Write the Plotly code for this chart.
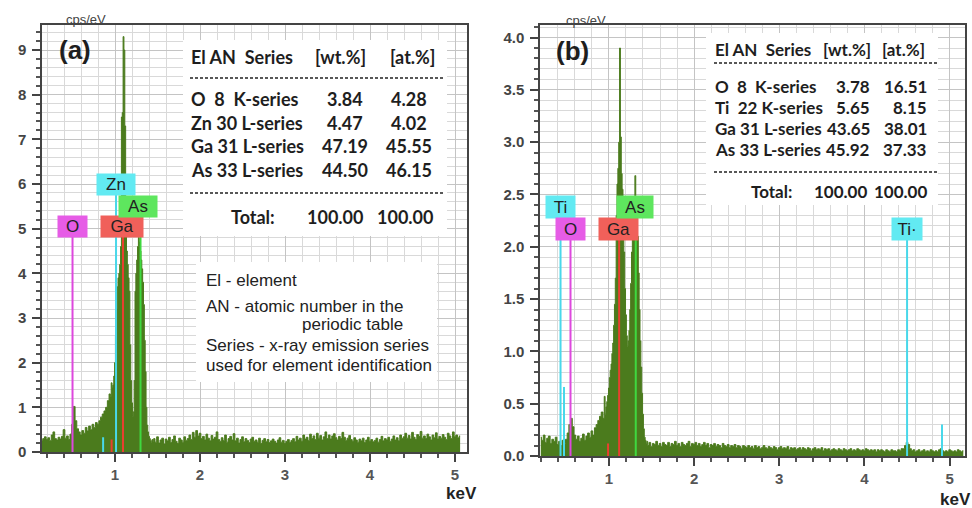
import numpy as np
import plotly.graph_objects as go

# ================= DATA =================
# Panel (a) spectrum (cps/eV), three energy segments
a_low_start, a_low_step = 0.14, 0.02
a_low = [0.26, 0.30, 0.34, 0.28, 0.32, 0.26, 0.38, 0.45, 0.30, 0.27,
         0.33, 0.29, 0.35, 0.50, 0.31, 0.36, 0.28, 0.40, 0.62, 1.02,
         0.70, 0.52, 0.45, 0.38, 0.48, 0.42, 0.55, 0.47, 0.58, 0.50,
         0.62, 0.55, 0.66, 0.62, 0.70, 0.78, 0.85, 0.92, 1.00, 1.15,
         1.30]
a_pk_start, a_pk_step = 0.95, 0.01
a_pk = [1.25, 1.55, 1.45, 1.50, 1.70, 2.00, 2.60, 3.20, 3.70, 3.90,
        4.00, 4.20, 4.60, 7.50, 7.60, 9.30, 9.00, 7.30, 5.20, 4.50,
        4.20, 3.90, 3.60, 2.40, 1.60, 1.10, 0.80, 0.90, 1.60, 3.60,
        4.00, 4.30, 4.60, 4.80, 4.70, 4.50, 4.30, 4.10, 3.80, 3.30,
        2.50, 1.80, 1.00, 0.60, 0.45, 0.35, 0.30, 0.26, 0.22, 0.28,
        0.24]
a_hi_start, a_hi_step = 1.46, 0.02
a_hi = [0.30, 0.22, 0.34, 0.20, 0.27, 0.31, 0.18, 0.29, 0.25, 0.33,
        0.21, 0.28, 0.36, 0.24, 0.19, 0.31, 0.27, 0.22, 0.34, 0.26,
        0.30, 0.38, 0.28, 0.44, 0.33, 0.48, 0.36, 0.42, 0.30, 0.35,
        0.27, 0.40, 0.31, 0.25, 0.37, 0.29, 0.33, 0.45, 0.28, 0.24,
        0.32, 0.26, 0.38, 0.22, 0.30, 0.35, 0.27, 0.41, 0.25, 0.31,
        0.20, 0.28, 0.34, 0.23, 0.30, 0.26, 0.21, 0.29, 0.33, 0.24,
        0.27, 0.22, 0.31, 0.19, 0.26, 0.30, 0.23, 0.28, 0.21, 0.25,
        0.29, 0.24, 0.20, 0.27, 0.32, 0.22, 0.26, 0.19, 0.24, 0.28,
        0.21, 0.26, 0.30, 0.23, 0.35, 0.27, 0.31, 0.24, 0.38, 0.29,
        0.33, 0.26, 0.40, 0.30, 0.36, 0.28, 0.42, 0.31, 0.37, 0.27,
        0.34, 0.45, 0.30, 0.38, 0.29, 0.36, 0.41, 0.32, 0.27, 0.35,
        0.30, 0.44, 0.33, 0.26, 0.31, 0.37, 0.28, 0.24, 0.32, 0.27,
        0.22, 0.29, 0.25, 0.31, 0.21, 0.27, 0.33, 0.24, 0.28, 0.23,
        0.26, 0.31, 0.22, 0.28, 0.35, 0.25, 0.30, 0.27, 0.33, 0.24,
        0.29, 0.36, 0.27, 0.32, 0.25, 0.38, 0.30, 0.34, 0.42, 0.31,
        0.37, 0.29, 0.44, 0.33, 0.28, 0.39, 0.35, 0.46, 0.31, 0.36,
        0.30, 0.40, 0.34, 0.27, 0.38, 0.32, 0.43, 0.29, 0.35, 0.31,
        0.39, 0.33, 0.28, 0.42, 0.36, 0.30, 0.45, 0.34, 0.38, 0.32,
        0.36]

# Panel (b) spectrum
b_low_start, b_low_step = 0.20, 0.02
b_low = [0.18, 0.15, 0.20, 0.13, 0.17, 0.19, 0.12, 0.16, 0.14, 0.18,
         0.11, 0.14, 0.10, 0.15, 0.12, 0.16, 0.22, 0.30, 0.36, 0.28,
         0.20, 0.16, 0.19, 0.14, 0.17, 0.21, 0.15, 0.19, 0.22, 0.18,
         0.24, 0.20, 0.27, 0.30, 0.34, 0.38, 0.42, 0.36]
b_pk_start, b_pk_step = 0.95, 0.01
b_pk = [0.57, 0.40, 0.47, 0.52, 0.58, 0.65, 0.75, 0.82, 0.88, 0.98,
        1.08, 1.25, 1.45, 1.70, 2.30, 2.60, 2.75, 3.00, 3.90, 3.05,
        2.70, 2.55, 2.40, 1.95, 1.60, 1.35, 1.15, 1.05, 1.10, 1.20,
        1.40, 1.65, 1.95, 2.20, 2.35, 2.45, 2.68, 2.40, 2.30, 2.10,
        1.75, 1.40, 1.10, 0.85, 0.60, 0.40, 0.26, 0.18, 0.15, 0.12,
        0.14]
b_hi_start, b_hi_step = 1.46, 0.02
b_hi = [0.10, 0.13, 0.09, 0.12, 0.11, 0.14, 0.10, 0.12, 0.09, 0.13,
        0.11, 0.10, 0.13, 0.09, 0.12, 0.11, 0.14, 0.10, 0.12, 0.09,
        0.13, 0.11, 0.10, 0.12, 0.14, 0.09, 0.12, 0.11, 0.13, 0.10,
        0.12, 0.09, 0.11, 0.13, 0.10, 0.12, 0.08, 0.11, 0.10, 0.12,
        0.09, 0.11, 0.10, 0.08, 0.12, 0.10, 0.09, 0.11, 0.08, 0.10,
        0.09, 0.11, 0.08, 0.10, 0.09, 0.07, 0.10, 0.09, 0.08, 0.10,
        0.08, 0.09, 0.07, 0.10, 0.08, 0.09, 0.07, 0.08, 0.10, 0.08,
        0.07, 0.09, 0.08, 0.07, 0.09, 0.08, 0.06, 0.08, 0.09, 0.07,
        0.08, 0.07, 0.09, 0.06, 0.08, 0.07, 0.08, 0.06, 0.07, 0.08,
        0.06, 0.08, 0.07, 0.06, 0.08, 0.07, 0.05, 0.07, 0.08, 0.06,
        0.07, 0.06, 0.08, 0.05, 0.07, 0.06, 0.07, 0.05, 0.06, 0.07,
        0.06, 0.05, 0.07, 0.06, 0.05, 0.07, 0.06, 0.05, 0.06, 0.07,
        0.05, 0.06, 0.05, 0.07, 0.06, 0.05, 0.06, 0.05, 0.07, 0.06,
        0.05, 0.06, 0.05, 0.06, 0.04, 0.06, 0.05, 0.06, 0.05, 0.04,
        0.06, 0.05, 0.04, 0.06, 0.05, 0.05, 0.04, 0.06, 0.05, 0.07,
        0.07, 0.10, 0.13, 0.11, 0.07, 0.05, 0.06, 0.04, 0.05, 0.06,
        0.04, 0.05, 0.06, 0.04, 0.05, 0.04, 0.06, 0.05, 0.04, 0.05,
        0.04, 0.06, 0.07, 0.05, 0.04, 0.05, 0.04, 0.06, 0.05, 0.04,
        0.05, 0.04, 0.06, 0.05, 0.04, 0.05]

# Element marker lines: (energy keV, height, colour key)
a_markers = [(0.50, 5.04, "O"), (1.012, 6.0, "Zn"), (1.094, 5.04, "Ga"),
             (1.30, 5.5, "As"), (0.86, 0.33, "Zn"), (0.96, 0.28, "Ga")]
b_markers = [(0.432, 2.38, "Ti"), (0.549, 2.17, "O"), (1.12, 2.17, "Ga"),
             (1.315, 2.38, "As"), (4.50, 2.17, "Ti"), (0.473, 0.66, "Ti"),
             (4.91, 0.30, "Ti"), (0.99, 0.12, "Ga")]

# Element label boxes: (text, energy, y, box width px)
a_labels = [("O", 0.50, 5.04, 29), ("Ga", 1.082, 5.04, 42),
            ("Zn", 1.012, 6.0, 38), ("As", 1.27, 5.5, 38)]
b_labels = [("Ti", 0.432, 2.38, 29), ("O", 0.549, 2.17, 29),
            ("Ga", 1.113, 2.17, 39), ("As", 1.306, 2.38, 36),
            ("Ti\u00b7", 4.499, 2.17, 30)]

# Quantification tables
a_el = ["O\u00a0\u00a08\u00a0\u00a0K-series", "Zn\u00a030\u00a0L-series",
        "Ga\u00a031\u00a0L-series", "As\u00a033\u00a0L-series"]
a_wt = ["3.84", "4.47", "47.19", "44.50"]
a_at = ["4.28", "4.02", "45.55", "46.15"]
b_el = ["O\u00a0\u00a08\u00a0\u00a0K-series", "Ti\u00a0\u00a022\u00a0K-series",
        "Ga\u00a031\u00a0L-series", "As\u00a033\u00a0L-series"]
b_wt = ["3.78", "5.65", "43.65", "45.92"]
b_at = ["16.51", "8.15", "38.01", "37.33"]
total_wt, total_at = "100.00", "100.00"

notes = ["El - element", "AN - atomic number in the", "periodic table",
         "Series - x-ray emission series", "used for element identification"]

# ================= STYLE =================
W, H = 972, 508
GREEN = "#4b7b1d"
COL = {"O": "#dd48dd", "Zn": "#48d8ea", "Ti": "#48d8ea", "Ga": "#e8402f", "As": "#3fd83f"}
BOX = {"O": "#e65ce6", "Zn": "#62eaf2", "Ti": "#62eaf2", "Ga": "#f0605a", "As": "#5ee65e"}


def px(x):
    return x / W


def py(y):
    return 1 - y / H


def energies(start, step, vals):
    return np.round(start + step * np.arange(len(vals)), 3)


fig = go.Figure()

spectra = [
    ("x", "y", [(a_low_start, a_low_step, a_low), (a_pk_start, a_pk_step, a_pk), (a_hi_start, a_hi_step, a_hi)]),
    ("x2", "y2", [(b_low_start, b_low_step, b_low), (b_pk_start, b_pk_step, b_pk), (b_hi_start, b_hi_step, b_hi)]),
]
for xa, ya, segs in spectra:
    e = np.concatenate([energies(s, d, v) for s, d, v in segs])
    c = np.concatenate([np.array(v, float) for s, d, v in segs])
    fig.add_trace(go.Scatter(x=e, y=c, mode="lines", line=dict(color=GREEN, width=1, shape="hvh"),
                             fill="tozeroy", fillcolor=GREEN, xaxis=xa, yaxis=ya,
                             showlegend=False, hoverinfo="skip"))

for xa, ya, markers in [("x", "y", a_markers), ("x2", "y2", b_markers)]:
    for e, h, k in markers:
        fig.add_trace(go.Scatter(x=[e, e], y=[0, h], mode="lines",
                                 line=dict(color=COL[k], width=2), xaxis=xa, yaxis=ya,
                                 showlegend=False, hoverinfo="skip"))

ann = []
shapes = []
LBLFONT = dict(family="Liberation Sans, Arial", size=17, color="#222")
for xa, ya, labels, hgt in [("x", "y", a_labels, 21), ("x2", "y2", b_labels, 22)]:
    for t, e, yv, w in labels:
        key = t.replace("\u00b7", "")
        ann.append(dict(x=e, y=yv, xref=xa, yref=ya, text=t, showarrow=False,
                        bgcolor=BOX[key], width=w, height=hgt, font=LBLFONT,
                        borderpad=0, xanchor="center", yanchor="middle"))

# white panels behind text
for x0, y0, x1, y1 in [(183, 40, 447, 236), (196, 262, 437, 382), (706, 33, 938, 205)]:
    shapes.append(dict(type="rect", xref="paper", yref="paper", x0=px(x0), x1=px(x1),
                       y0=py(y1), y1=py(y0), fillcolor="white", line=dict(width=0), layer="above"))
# dashed rules
for x0, x1, y in [(190, 443, 78), (190, 443, 193), (714, 937, 63), (714, 937, 172)]:
    shapes.append(dict(type="line", xref="paper", yref="paper", x0=px(x0), x1=px(x1),
                       y0=py(y), y1=py(y), line=dict(color="#222", width=1.5, dash="3px,2px"),
                       layer="above"))


def txt(x, y, t, size, anchor="left", family="Lato, Liberation Sans", bold=True, color="#1e1e1e"):
    ann.append(dict(x=px(x), y=py(y), xref="paper", yref="paper", text=(f"<b>{t}</b>" if bold else t),
                    showarrow=False, xanchor=anchor, yanchor="middle",
                    font=dict(family=family, size=size, color=color)))


# table (a)
txt(189, 57, "El AN\u00a0\u00a0Series", 18)
txt(340, 57, "[wt.%]", 18, "center")
txt(413, 57, "[at.%]", 18, "center")
for i, (el, w, a) in enumerate(zip(a_el, a_wt, a_at)):
    yy = 99 + i * 23.7
    txt(189, yy, el, 18)
    txt(345, yy, w, 18, "center")
    txt(409, yy, a, 18, "center")
txt(229, 217, "Total:", 18)
txt(335, 217, total_wt, 18, "center")
txt(405, 217, total_at, 18, "center")

# table (b)
txt(713, 49, "El AN\u00a0\u00a0Series", 17)
txt(847, 49, "[wt.%]", 17, "center")
txt(903, 49, "[at.%]", 17, "center")
for i, (el, w, a) in enumerate(zip(b_el, b_wt, b_at)):
    yy = 86 + i * 21.3
    txt(713, yy, el, 17)
    txt(872, yy, w, 17, "right")
    txt(929, yy, a, 17, "right")
txt(749, 191, "Total:", 17)
txt(869, 191, total_wt, 17, "right")
txt(929, 191, total_at, 17, "right")

# notes (a)
NF = "Liberation Sans, Arial"
for (xx, yy), t in zip([(204, 280), (204, 306), (300, 324), (204, 345), (204, 365)], notes):
    txt(xx, yy, t, 17, family=NF, bold=False, color="#222")

# panel letters, units
txt(75, 50, "(a)", 26, "center", family=NF)
txt(572, 51, "(b)", 26, "center", family=NF)
txt(86, 19, "cps/eV", 13, "center", family=NF, bold=False, color="#444")
txt(586, 20, "cps/eV", 13, "center", family=NF, bold=False, color="#444")
txt(461, 493, "keV", 17, "center", family=NF, color="#222")
txt(938, 499, "keV", 17, "left", family=NF, color="#222")

TICKFONT = dict(family="Liberation Sans, Arial", size=15, color="#444", weight="bold")


def xaxis(dom, rng):
    return dict(domain=[px(dom[0]), px(dom[1])], range=rng, tick0=0, dtick=1,
                ticks="outside", ticklen=8, tickwidth=1.5, tickcolor="#444",
                showgrid=True, gridcolor="#c4c4c4", gridwidth=1,
                minor=dict(dtick=0.2, tick0=0, ticks="outside", ticklen=4, tickcolor="#555",
                           showgrid=True, gridcolor="#d9d9d9", gridwidth=1),
                showline=True, linecolor="#444", linewidth=1.5, mirror=True, zeroline=False,
                tickfont=dict(TICKFONT, color="#555"), ticklabelstandoff=0, automargin=False,
                fixedrange=True)


def yaxis(dom, rng, dt, mdt, fmt, anchor):
    return dict(domain=[py(dom[1]), py(dom[0])], range=rng, tick0=0, dtick=dt, tickformat=fmt,
                ticks="outside", ticklen=8, tickwidth=1.5, tickcolor="#444",
                showgrid=True, gridcolor="#c4c4c4", gridwidth=1,
                minor=dict(dtick=mdt, tick0=0, ticks="outside", ticklen=4, tickcolor="#555",
                           showgrid=True, gridcolor="#d9d9d9", gridwidth=1),
                showline=True, linecolor="#444", linewidth=1.5, mirror=True, zeroline=False,
                tickfont=TICKFONT, ticklabelstandoff=3, anchor=anchor, automargin=False,
                fixedrange=True)


fig.update_layout(
    template="none",
    width=W, height=H, margin=dict(l=0, r=0, t=0, b=0, autoexpand=False),
    paper_bgcolor="white", plot_bgcolor="white", showlegend=False,
    xaxis=dict(xaxis((42, 467), [0.141, 5.141]), anchor="y"),
    yaxis=yaxis((25, 452), [0, 9.56], 1, 0.2, "d", "x"),
    xaxis2=dict(xaxis((540, 965), [0.191, 5.18]), anchor="y2"),
    yaxis2=yaxis((25, 456), [0, 4.12], 0.5, 0.1, ".1f", "x2"),
    annotations=ann, shapes=shapes,
)

fig.write_html("out.html", config={"displayModeBar": False},
               post_script="document.body.style.margin='0';document.body.style.overflow='hidden';")
